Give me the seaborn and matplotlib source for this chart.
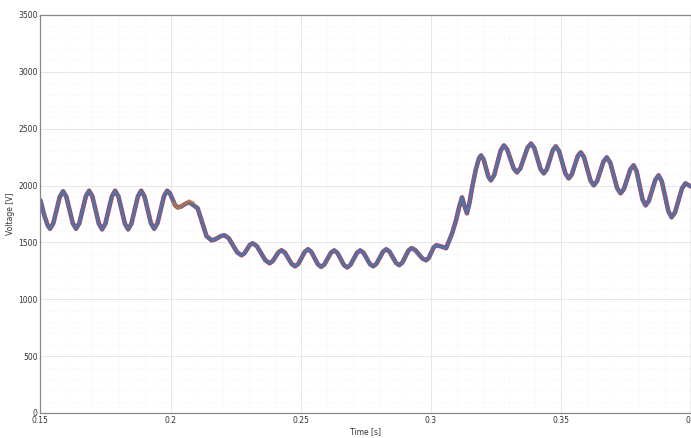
import numpy as np
import pandas as pd
import matplotlib
matplotlib.use("Agg")
import matplotlib.pyplot as plt
import seaborn as sns

# waveform points (time in s, voltage in V),
# split in three stretches: before the sag, the sag, the swell after it
pre_t = [0.1500, 0.1516, 0.1528, 0.1537, 0.15495, 0.15745, 0.1587, 0.15995,
         0.16245, 0.1637, 0.16495, 0.16745, 0.1687, 0.16995, 0.17245, 0.1737,
         0.17495, 0.17745, 0.1787, 0.17995, 0.18245, 0.1837, 0.18495, 0.18745,
         0.1887, 0.18995, 0.19245, 0.1937, 0.19495, 0.19745, 0.1987]
pre_v = [1870, 1730, 1650, 1620, 1668, 1902, 1950, 1902,
         1668, 1620, 1669, 1906, 1955, 1905, 1665, 1615,
         1665, 1905, 1955, 1905, 1665, 1615, 1665, 1905,
         1955, 1906, 1669, 1620, 1669, 1906, 1955]

sag_t = [0.1997, 0.2017, 0.2027, 0.20385, 0.20615, 0.2073, 0.2104, 0.2138,
         0.2157, 0.21695, 0.21945, 0.2207, 0.22233, 0.22558, 0.2272, 0.22828,
         0.23043, 0.2315, 0.23313, 0.23638, 0.2380, 0.23915, 0.24145, 0.2426,
         0.2439, 0.2465, 0.2478, 0.24905, 0.25155, 0.2528, 0.25405, 0.25655,
         0.2578, 0.25905, 0.26155, 0.2628, 0.26405, 0.26655, 0.2678, 0.26905,
         0.27155, 0.2728, 0.27405, 0.27655, 0.2778, 0.27905, 0.28155, 0.2828,
         0.28405, 0.28655, 0.2878, 0.28898, 0.29133, 0.2925, 0.2939, 0.2967,
         0.2981, 0.29908, 0.30103, 0.3020, 0.3039, 0.3058]
sag_v = [1934, 1829, 1808, 1814, 1846, 1852, 1800, 1555,
         1519, 1525, 1557, 1563, 1537, 1413, 1387, 1402,
         1478, 1493, 1467, 1343, 1317, 1334, 1414, 1431,
         1410, 1311, 1290, 1312, 1418, 1440, 1417, 1308,
         1285, 1306, 1409, 1430, 1408, 1302, 1280, 1302,
         1408, 1430, 1410, 1310, 1290, 1312, 1418, 1440,
         1420, 1320, 1300, 1322, 1428, 1450, 1434, 1359,
         1343, 1362, 1456, 1475, 1465, 1449]

swell_t = [0.3081, 0.3096, 0.3108, 0.3119, 0.3126, 0.3138, 0.3148, 0.3158,
           0.3172, 0.3184, 0.3192, 0.32015, 0.32205, 0.3230, 0.32425, 0.32675,
           0.3280, 0.32925, 0.33175, 0.3330, 0.33435, 0.33705, 0.3384, 0.33963,
           0.34208, 0.3433, 0.34445, 0.34675, 0.3479, 0.34915, 0.35165, 0.3529,
           0.35405, 0.35635, 0.3575, 0.35875, 0.36125, 0.3625, 0.36375, 0.36625,
           0.3675, 0.36883, 0.37148, 0.3728, 0.37405, 0.37655, 0.3778, 0.37895,
           0.38125, 0.3824, 0.38365, 0.38615, 0.3874, 0.38865, 0.39115, 0.3924,
           0.39373, 0.39638, 0.3977, 0.4000]
swell_v = [1580, 1694, 1810, 1896, 1840, 1756, 1850, 1984,
           2140, 2238, 2265, 2233, 2078, 2046, 2091, 2308,
           2353, 2318, 2151, 2116, 2153, 2333, 2370, 2332,
           2145, 2107, 2142, 2310, 2345, 2304, 2104, 2063,
           2096, 2259, 2292, 2250, 2044, 2002, 2038, 2212,
           2248, 2202, 1978, 1932, 1968, 2142, 2178, 2127,
           1877, 1826, 1865, 2051, 2090, 2036, 1775, 1721,
           1765, 1975, 2019, 1990]

# one trace that leaves the bundle just after the sag starts
dev_t = [0.2010, 0.2030, 0.2050, 0.2070, 0.2088]
dev_v = [1850, 1800, 1835, 1868, 1850]

# overlapping phase traces (MATLAB default colour order), drawn bottom to top
trace_colors = ["#A2142F", "#D95319", "#7E2F8E", "#4a7aa6"]
trace_widths = [3.3, 3.1, 2.8, 2.2]
trace_alpha = [0.55, 0.5, 0.7, 0.85]

x_ticks = [0.15, 0.2, 0.25, 0.3, 0.35, 0.4]
x_labels = ["0.15", "0.2", "0.25", "0.3", "0.35", "0.4"]
y_ticks = [0, 500, 1000, 1500, 2000, 2500, 3000, 3500]

df = pd.DataFrame({"time": pre_t + sag_t + swell_t,
                   "voltage": pre_v + sag_v + swell_v})
dev = pd.DataFrame({"time": dev_t, "voltage": dev_v})

sns.set_theme(style="white")
plt.rcParams["font.family"] = ["DejaVu Sans"]

fig = plt.figure(figsize=(6.91, 4.38), dpi=100)
ax = fig.add_axes([40.4 / 691, 25 / 438, 651 / 691, 398 / 438])

for col, lw, a in zip(trace_colors, trace_widths, trace_alpha):
    sns.lineplot(data=df, x="time", y="voltage", ax=ax, color=col,
                 linewidth=lw, alpha=a, estimator=None, sort=False)
sns.lineplot(data=dev, x="time", y="voltage", ax=ax, color="#C8793A",
             linewidth=1.8, alpha=0.75, estimator=None, sort=False)
for line in ax.get_lines():
    line.set_solid_joinstyle("round")
    line.set_solid_capstyle("round")

ax.set_xlim(0.15, 0.4)
ax.set_ylim(0, 3500)
ax.set_xticks(x_ticks)
ax.set_xticklabels(x_labels)
ax.set_yticks(y_ticks)
ax.set_xticks(np.arange(0.15, 0.4001, 0.01), minor=True)
ax.set_yticks(np.arange(0, 3501, 100), minor=True)

ax.grid(which="major", color="#e2e2e2", linewidth=0.6)
ax.grid(which="minor", color="#efefef", linewidth=0.5, linestyle=":")
ax.set_axisbelow(True)

ax.tick_params(which="major", direction="in", length=3, width=0.6,
               labelsize=5.5, colors="#333333", pad=2)
ax.tick_params(which="minor", length=0)
for sp in ax.spines.values():
    sp.set_color("#888888")
    sp.set_linewidth(0.9)

ax.set_xlabel("Time [s]", fontsize=5.5, color="#333333", labelpad=2)
ax.set_ylabel("Voltage [V]", fontsize=5.5, color="#333333", labelpad=2)

fig.savefig("out.png", dpi=100)
